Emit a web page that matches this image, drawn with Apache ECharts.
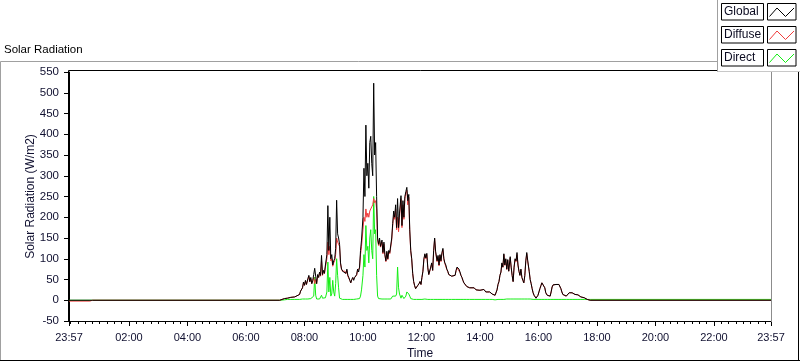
<!DOCTYPE html>
<html>
<head>
<meta charset="utf-8">
<script src="https://cdn.jsdelivr.net/npm/echarts@6/dist/echarts.min.js"></script>
<style>
html,body{margin:0;padding:0;background:#fff;}
#chart{width:800px;height:361px;}
</style>
</head>
<body>
<div id="chart"></div>
<script>
// Time of day in minutes (negative = previous day, 23:57)
const times = [-3,40,45,429,433,439,445,452,460,464,470,472,476,478,480,482,484,487,489,491,493,495,497,499,501,503,505,507,509,511,513,515,517,519,521,523,526,528,530,532,534,536,538,540,542,544,546,548,550,552,554,556,558,560,563,565,567,569,571,573,575,577,579,581,583,585,587,589,591,593,595,597,600,602,604,606,608,610,612,614,616,618,620,622,624,626,628,630,632,634,636,639,641,643,645,647,649,651,653,655,657,659,661,663,665,667,669,671,673,675,678,680,682,684,686,688,690,692,694,696,698,700,702,704,706,708,710,712,715,717,719,721,723,725,727,729,731,733,735,737,739,741,743,745,747,749,752,754,756,758,760,762,764,766,768,770,772,774,776,778,780,782,784,786,789,791,793,795,797,799,801,803,805,807,809,813,817,819,823,828,832,836,840,844,848,852,856,860,865,869,871,875,877,879,881,883,885,887,889,891,893,895,897,899,902,904,906,908,910,912,914,916,918,920,922,924,926,928,930,932,934,936,938,941,943,945,947,949,951,953,955,957,959,961,963,965,967,969,971,973,975,978,980,982,984,986,988,990,992,996,998,1000,1002,1004,1006,1008,1010,1012,1017,1019,1021,1023,1025,1027,1029,1031,1033,1035,1037,1039,1041,1043,1045,1047,1049,1051,1054,1056,1058,1060,1062,1066,1437];

const globalVals = [0,0,0,0,3,4,5,7,8,12,14,22,30,44,36,48,38,52,60,45,55,40,48,62,77,58,40,62,55,68,60,108,62,72,65,85,110,228,120,200,100,110,85,95,100,125,241,160,150,135,90,75,72,68,72,65,75,60,55,48,42,50,55,48,55,52,62,75,68,80,120,145,200,318,250,422,300,330,270,380,395,330,300,523,350,380,250,150,135,150,130,145,115,140,110,95,118,100,120,115,118,150,185,215,200,230,175,245,175,210,252,180,240,200,250,262,272,240,255,170,120,100,65,45,35,28,24,35,40,45,38,55,70,100,112,102,113,78,62,58,80,90,72,120,150,118,95,108,85,110,95,115,125,100,90,85,75,70,62,66,63,58,62,55,60,72,80,84,75,68,60,55,48,42,38,33,35,30,26,30,25,28,24,22,26,20,24,20,15,14,12,25,38,45,60,68,90,80,112,85,100,75,98,70,105,80,60,45,80,100,95,115,85,70,60,75,55,48,42,60,95,115,95,70,50,40,28,18,12,8,5,6,12,20,28,35,42,44,38,30,18,12,9,8,10,20,32,37,38,38,40,37,38,35,28,20,14,12,10,12,14,18,18,20,18,20,17,14,15,12,13,10,11,8,9,7,6,4,3,2,1,0,0];

const diffuseVals = [-2,-2,0,0,3,4,5,7,8,12,14,22,30,42,36,46,38,50,58,44,52,40,46,55,40,50,40,60,55,66,58,95,60,70,64,80,100,140,110,130,95,100,82,90,95,110,150,140,140,130,88,75,70,66,70,64,72,58,55,48,42,50,54,48,55,52,60,72,68,78,110,130,170,200,190,220,200,210,200,215,220,225,230,245,235,240,220,145,132,145,128,140,112,135,108,93,115,98,118,112,115,145,180,205,195,220,170,200,165,200,245,175,230,195,245,258,265,230,248,165,118,98,64,45,35,28,24,35,40,45,38,55,70,98,110,100,110,78,62,58,78,88,72,118,148,115,93,105,83,108,93,112,122,98,88,84,74,69,62,65,62,58,61,55,60,71,78,82,74,67,60,55,48,42,38,33,35,30,26,30,25,28,24,22,26,20,24,20,15,14,12,25,38,45,60,67,88,79,110,84,98,74,96,70,102,79,60,45,79,98,93,110,84,70,60,74,55,48,42,59,93,112,93,69,50,40,28,18,12,8,5,6,12,20,28,35,42,44,38,30,18,12,9,8,10,20,32,37,38,38,40,37,38,35,28,20,14,12,10,12,14,18,18,20,18,20,17,14,15,12,13,10,11,8,9,7,6,4,3,2,1,0,0];

const directVals = [0,0,0,0,1,1,2,2,2,2,2,3,3,3,3,3,3,3,3,3,4,3,4,10,56,12,3,3,3,3,3,12,5,4,4,6,20,92,20,55,10,15,48,20,10,40,100,60,30,5,3,2,2,2,2,2,2,2,2,2,2,2,2,2,2,2,3,3,3,4,10,25,60,110,80,180,120,130,90,150,170,120,100,250,160,170,60,10,4,3,3,3,3,3,3,3,3,3,3,3,3,5,10,12,8,10,15,80,30,15,5,12,8,4,3,10,20,18,15,10,4,3,2,2,2,2,2,2,2,2,2,2,2,3,3,3,3,2,2,2,2,2,2,2,2,2,2,2,2,2,2,2,2,2,2,2,2,2,2,2,2,2,2,2,2,2,2,2,2,2,2,2,2,2,2,2,2,2,2,2,2,2,2,2,2,2,2,2,2,1,1,1,2,2,2,2,2,2,2,3,3,3,3,3,3,3,3,3,3,3,3,3,3,3,3,3,3,3,3,3,3,3,3,3,3,3,3,2,2,2,2,2,2,2,2,2,2,2,2,2,2,2,2,2,2,2,2,2,2,2,2,2,2,2,2,2,2,2,2,2,2,2,2,2,2,2,2,2,2,2,2,2,2,2,2,2,2,2,2,2,2,2,2,2,2,1,1,0,0];

const seriesNames = ['Global', 'Diffuse', 'Direct'];
const tickLabelValues = [-3,120,240,360,480,600,720,840,960,1080,1200,1320,1437];

const FONT = '"Liberation Sans", Arial, sans-serif';
const colors = {Global:'#000000', Diffuse:'#f03c3c', Direct:'#14ee14'};

function fmt(v){
  if (v < 0 || v >= 1437) return '23:57';
  const h = Math.floor(v/60), m = v % 60;
  return String(h).padStart(2,'0') + ':' + String(m).padStart(2,'0');
}
const minorTicks = [];
for (let t = 0; t < 1437; t += 15) minorTicks.push(t);

function pairs(vals){ return times.map((t,i)=>[t, vals[i]]); }

const chart = echarts.init(document.getElementById('chart'), null, {renderer:'canvas'});

const legendItems = [];
seriesNames.forEach((name, i) => {
  const y0 = 3.5 + 23*i;
  legendItems.push(
    {type:'rect', shape:{x:721.5, y:y0, width:42, height:16.5}, style:{fill:'#fff', stroke:'#000', lineWidth:1}, z:101},
    {type:'text', style:{text:name, x:724, y:y0+8.5, font:'12px ' + FONT, fill:'#0a0a20', verticalAlign:'middle', align:'left'}, z:102},
    {type:'rect', shape:{x:767.5, y:y0, width:28.5, height:16.5}, style:{fill:'#fff', stroke:'#000', lineWidth:1}, z:101},
    {type:'polyline', shape:{points:[[769.5,y0+13],[777,y0+4.5],[785.5,y0+13],[794,y0+4.5]]}, style:{stroke:colors[name], lineWidth:1, fill:null}, z:102}
  );
});

const option = {
  animation:false,
  backgroundColor:'#fff',
  textStyle:{fontFamily:FONT},
  grid:{left:69, right:29, top:72, bottom:40, containLabel:false, outerBoundsMode:'none'},
  xAxis:[{
    type:'value', min:-3, max:1437, position:'bottom',
    axisLine:{show:true, onZero:false, lineStyle:{color:'#000', width:1}},
    axisTick:{show:true, customValues:tickLabelValues, length:5, lineStyle:{color:'#000'}},
    axisLabel:{show:true, customValues:tickLabelValues, formatter:fmt, fontSize:11, color:'#101030', margin:11, fontFamily:FONT},
    splitLine:{show:false},
    name:'Time', nameLocation:'middle', nameGap:27, nameMoveOverlap:false,
    nameTextStyle:{fontSize:12, color:'#101030', fontFamily:FONT, verticalAlign:'top'}
  },{
    type:'value', min:-3, max:1437, position:'bottom', offset:0,
    axisLine:{show:false, onZero:false},
    axisTick:{show:true, customValues:minorTicks, length:3, lineStyle:{color:'#000'}},
    axisLabel:{show:false},
    splitLine:{show:false}
  }],
  yAxis:{
    type:'value', min:-50, max:550, interval:50,
    axisLine:{show:true, onZero:false, lineStyle:{color:'#000', width:1}},
    axisTick:{show:true, length:5, lineStyle:{color:'#000'}},
    axisLabel:{fontSize:11.5, color:'#101030', margin:10, fontFamily:FONT},
    splitLine:{show:false},
    name:'Solar Radiation (W/m2)', nameLocation:'middle', nameGap:32, nameMoveOverlap:false,
    nameTextStyle:{fontSize:12, color:'#101030', fontFamily:FONT}
  },
  series:[
    {name:'Direct', type:'line', xAxisIndex:0, data:pairs(directVals), showSymbol:false, symbol:'none', lineStyle:{color:colors.Direct, width:1}, itemStyle:{color:colors.Direct}},
    {name:'Diffuse', type:'line', xAxisIndex:0, data:pairs(diffuseVals), showSymbol:false, symbol:'none', lineStyle:{color:colors.Diffuse, width:1}, itemStyle:{color:colors.Diffuse}},
    {name:'Global', type:'line', xAxisIndex:0, data:pairs(globalVals), showSymbol:false, symbol:'none', lineStyle:{color:colors.Global, width:1}, itemStyle:{color:colors.Global}}
  ],
  graphic:[
    {type:'line', shape:{x1:0.5, y1:61.5, x2:717, y2:61.5}, style:{stroke:'#a0a0a0', lineWidth:1}, z:50},
    {type:'line', shape:{x1:0.5, y1:61.5, x2:0.5, y2:361}, style:{stroke:'#a0a0a0', lineWidth:1}, z:50},
    {type:'line', shape:{x1:0, y1:360.5, x2:800, y2:360.5}, style:{stroke:'#000', lineWidth:1}, z:50},
    {type:'line', shape:{x1:798.5, y1:72, x2:798.5, y2:361}, style:{stroke:'#000', lineWidth:1}, z:50},
    {type:'line', shape:{x1:68.5, y1:70.5, x2:772, y2:70.5}, style:{stroke:'#000', lineWidth:1}, z:50},
    {type:'line', shape:{x1:68.5, y1:70.5, x2:68.5, y2:321.5}, style:{stroke:'#000', lineWidth:1}, z:50},
    {type:'line', shape:{x1:771.5, y1:70.5, x2:771.5, y2:322}, style:{stroke:'#8c8c8c', lineWidth:1}, z:50},
    {type:'text', style:{text:'Solar Radiation', x:4, y:50, font:'11.5px ' + FONT, fill:'#000', verticalAlign:'middle'}, z:50},
    {type:'rect', shape:{x:717, y:0, width:83, height:72}, style:{fill:'#fff'}, z:100},
    {type:'line', shape:{x1:717.5, y1:0, x2:717.5, y2:72}, style:{stroke:'#a0a0a0', lineWidth:1}, z:101},
    {type:'line', shape:{x1:717.5, y1:71.5, x2:800, y2:71.5}, style:{stroke:'#c8c8c8', lineWidth:1}, z:101}
  ].concat(legendItems)
};
chart.setOption(option);
</script>
</body>
</html>
